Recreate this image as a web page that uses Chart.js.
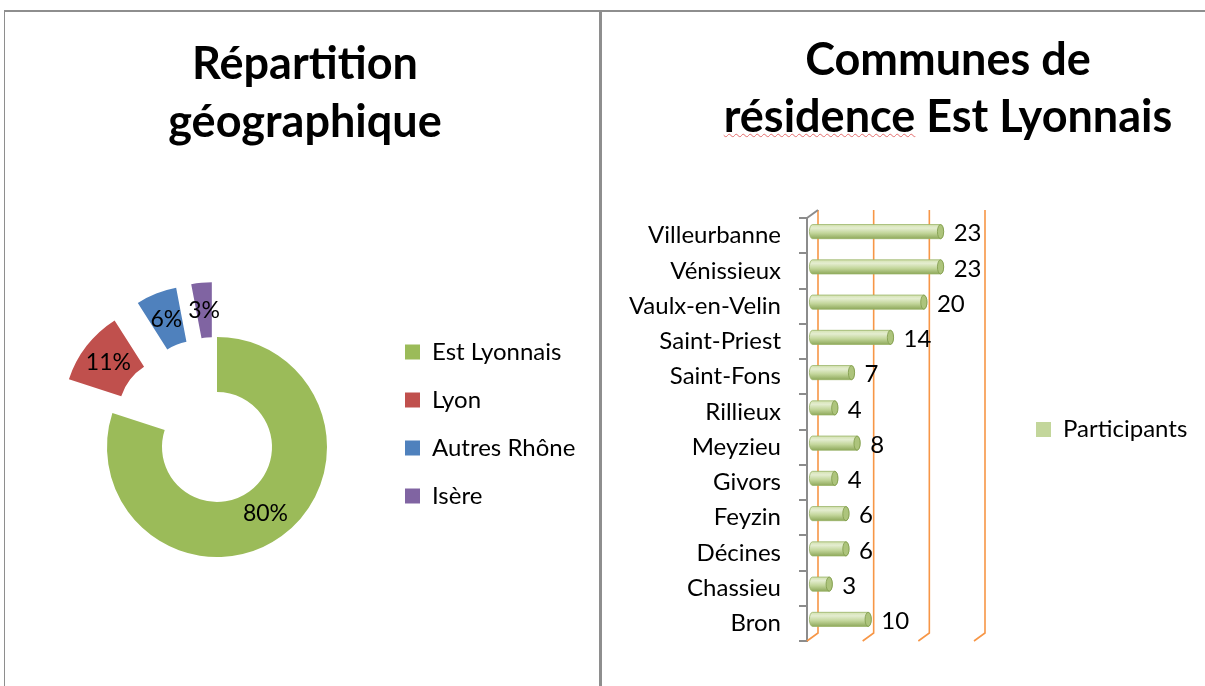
<!DOCTYPE html>
<html>
<head>
<meta charset="utf-8">
<script src="https://cdn.jsdelivr.net/npm/chart.js@4.4.1/dist/chart.umd.min.js"></script>
<style>
  body { margin: 0; width: 1205px; height: 686px; overflow: hidden; background: #fff; position: relative; font-family: Lato, sans-serif; }
  .panel { position: absolute; top: 0; height: 686px; }
  #left { left: 0; width: 600px; }
  #right { left: 600px; width: 605px; }
  .rule { position: absolute; background: #8e8e8e; }
  .title { position: absolute; text-align: center; font-weight: 700; font-size: 45px; color: #000; white-space: nowrap; }
  #title-left { left: 0; width: 610px; top: 33px; line-height: 58px; }
  #title-right { left: 600px; width: 696px; top: 29.5px; line-height: 57px; }
  .spell { text-decoration: underline wavy #e36c6c; text-decoration-thickness: 1px; text-underline-offset: 1px; }
</style>
</head>
<body>
<div class="panel" id="left"><canvas id="repartition"></canvas></div>
<div class="panel" id="right"><canvas id="communes"></canvas></div>
<div class="title" id="title-left">Répartition<br>géographique</div>
<div class="title" id="title-right">Communes de<br><span class="spell">résidence</span> Est Lyonnais</div>
<div class="rule" style="left:4px; top:10px; width:1201px; height:2px;"></div>
<div class="rule" style="left:4px; top:10px; width:1px; height:676px;"></div>
<div class="rule" style="left:599px; top:10px; width:3px; height:676px;"></div>
<script>
const zones = ['Est Lyonnais', 'Lyon', 'Autres Rhône', 'Isère'];
const zonePercents = [80, 11, 6, 3];
const zoneColors = ['#9bbb59', '#c0504d', '#4f81bd', '#8064a2'];

const communes = ['Villeurbanne', 'Vénissieux', 'Vaulx-en-Velin', 'Saint-Priest', 'Saint-Fons', 'Rillieux',
                  'Meyzieu', 'Givors', 'Feyzin', 'Décines', 'Chassieu', 'Bron'];
const participants = [23, 23, 20, 14, 7, 4, 8, 4, 6, 6, 3, 10];
const participantTicks = [0, 10, 20, 30];

Chart.defaults.font.family = 'Lato';
Chart.defaults.color = '#000';

// exploded slices, pixels along the slice's middle angle
const explode = [0, 55, 55, 55];

const explodedSlices = {
    id: 'explodedSlices',
    beforeDatasetDraw(chart, args) {
        const ctx = chart.ctx;
        args.meta.data.forEach((arc, i) => {
            const mid = (arc.startAngle + arc.endAngle) / 2;
            ctx.save();
            ctx.translate(Math.cos(mid) * explode[i], Math.sin(mid) * explode[i]);
            arc.draw(ctx);
            ctx.restore();
        });
        return false;
    },
    afterDatasetsDraw(chart) {
        const ctx = chart.ctx;
        const meta = chart.getDatasetMeta(0);
        ctx.save();
        ctx.font = '23px Lato';
        ctx.fillStyle = '#000';
        ctx.textAlign = 'center';
        ctx.textBaseline = 'middle';
        meta.data.forEach((arc, i) => {
            const mid = (arc.startAngle + arc.endAngle) / 2;
            const p = arc.getCenterPoint();
            ctx.fillText(zonePercents[i] + '%', p.x + Math.cos(mid) * explode[i], p.y + Math.sin(mid) * explode[i]);
        });
        ctx.restore();
    }
};

new Chart(document.getElementById('repartition'), {
    type: 'doughnut',
    data: {
        labels: zones,
        datasets: [{
            data: zonePercents,
            backgroundColor: zoneColors,
            borderWidth: 0,
            radius: 110,
            cutout: '50%'
        }]
    },
    options: {
        responsive: true,
        maintainAspectRatio: false,
        animation: false,
        layout: { padding: { left: 53, right: 19, top: 316, bottom: 108 } },
        plugins: {
            legend: {
                position: 'right',
                fullSize: false,
                align: 'start',
                maxWidth: 200,
                labels: { boxWidth: 15, boxHeight: 15, padding: 24, font: { size: 24 }, color: '#000' }
            },
            tooltip: { enabled: false }
        }
    },
    plugins: [explodedSlices]
});

// 3d depth of the bar chart (back wall offset)
const DX = 11, DY = -8;

const wall3d = {
    id: 'wall3d',
    beforeDatasetsDraw(chart) {
        const { ctx, chartArea: a, scales: { x } } = chart;
        ctx.save();
        ctx.strokeStyle = '#f79646';
        ctx.lineWidth = 1.6;
        participantTicks.forEach(v => {
            const px = x.getPixelForValue(v);
            ctx.beginPath();
            ctx.moveTo(px + DX, a.top + DY);
            ctx.lineTo(px + DX, a.bottom + DY);
            ctx.lineTo(px, a.bottom);
            ctx.stroke();
        });
        ctx.strokeStyle = '#8c8c8c';
        ctx.lineWidth = 2;
        ctx.beginPath();
        ctx.moveTo(a.left, a.top);
        ctx.lineTo(a.left + DX, a.top + DY);
        ctx.stroke();
        ctx.restore();
    }
};

const cylinders = {
    id: 'cylinders',
    beforeDatasetDraw(chart, args) {
        const ctx = chart.ctx;
        args.meta.data.forEach(bar => {
            const h = bar.height;
            const top = bar.y - h / 2 + DY / 2;
            const left = bar.base + DX / 2;
            const right = bar.x + DX / 2;
            const rx = h * 0.22;
            const g = ctx.createLinearGradient(0, top, 0, top + h);
            g.addColorStop(0, '#d3e2b0');
            g.addColorStop(0.25, '#e4edd0');
            g.addColorStop(0.6, '#c3d69b');
            g.addColorStop(1, '#8fa95c');
            ctx.save();
            ctx.fillStyle = g;
            ctx.strokeStyle = '#98b264';
            ctx.lineWidth = 0.8;
            ctx.beginPath();
            ctx.moveTo(left, top);
            ctx.lineTo(right, top);
            ctx.ellipse(right, top + h / 2, rx, h / 2, 0, -Math.PI / 2, Math.PI / 2);
            ctx.lineTo(left, top + h);
            ctx.ellipse(left, top + h / 2, rx, h / 2, 0, Math.PI / 2, Math.PI * 1.5);
            ctx.closePath();
            ctx.fill();
            ctx.stroke();
            ctx.beginPath();
            ctx.ellipse(right, top + h / 2, rx, h / 2, 0, 0, Math.PI * 2);
            ctx.fillStyle = '#adc47c';
            ctx.fill();
            ctx.strokeStyle = '#7f9a4a';
            ctx.stroke();
            ctx.restore();
        });
        return false;
    },
    afterDatasetsDraw(chart) {
        const ctx = chart.ctx;
        const meta = chart.getDatasetMeta(0);
        ctx.save();
        ctx.font = '24px Lato';
        ctx.fillStyle = '#000';
        ctx.textAlign = 'left';
        ctx.textBaseline = 'middle';
        meta.data.forEach((bar, i) => {
            const rx = bar.height * 0.22;
            ctx.fillText(String(participants[i]), bar.x + DX / 2 + rx + 10, bar.y + DY / 2 + 2);
        });
        ctx.restore();
    }
};

new Chart(document.getElementById('communes'), {
    type: 'bar',
    data: {
        labels: communes,
        datasets: [{
            label: 'Participants',
            data: participants,
            backgroundColor: '#c3d69b',
            borderWidth: 0,
            barPercentage: 0.4,
            categoryPercentage: 1
        }]
    },
    options: {
        indexAxis: 'y',
        responsive: true,
        maintainAspectRatio: false,
        animation: false,
        layout: { padding: { left: 0, right: 13, top: 218, bottom: 45 } },
        scales: {
            x: {
                display: false,
                min: 0,
                max: 30,
                ticks: { stepSize: 10 }
            },
            y: {
                grid: { display: true, drawOnChartArea: false, drawTicks: true, tickLength: 8, color: '#8c8c8c', lineWidth: 2, offset: true },
                border: { display: true, color: '#8c8c8c', width: 2 },
                ticks: { padding: 18, font: { size: 24 }, color: '#000', autoSkip: false },
                afterFit(scale) { scale.width = 207; }
            }
        },
        plugins: {
            legend: {
                position: 'right',
                fullSize: false,
                maxWidth: 218,
                labels: { boxWidth: 15, boxHeight: 15, padding: 62, font: { size: 24 }, color: '#000' }
            },
            tooltip: { enabled: false }
        }
    },
    plugins: [wall3d, cylinders]
});
</script>
</body>
</html>
